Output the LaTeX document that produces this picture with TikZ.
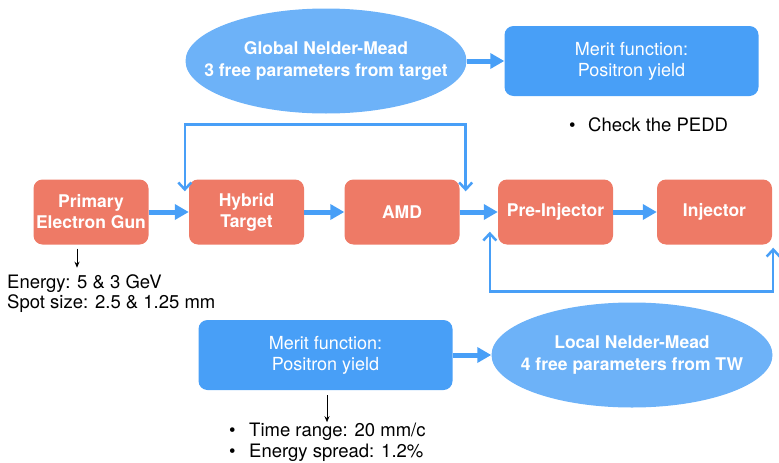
\documentclass[tikz,border=0pt]{standalone}
\usepackage{fontspec}
\setmainfont{TeX Gyre Heros}
\usetikzlibrary{shapes.geometric,arrows.meta}
\definecolor{stagered}{HTML}{EE7A66}
\definecolor{meritblue}{HTML}{489FF7}
\definecolor{nelderblue}{HTML}{6DB2F8}

\begin{document}
\begin{tikzpicture}[x=1pt,y=-1pt,
    stage/.style ={rectangle, rounded corners=9pt, fill=stagered, text=white, inner sep=0pt,
       minimum width=115pt, minimum height=65pt, align=center, font=\fontsize{17.5}{21}\selectfont\bfseries},
    merit/.style ={rectangle, rounded corners=9pt, fill=meritblue, text=white, inner sep=0pt,
       minimum width=254pt, minimum height=70pt, align=center, font=\fontsize{18}{21}\selectfont},
    nelder/.style ={ellipse, fill=nelderblue, text=white, inner xsep=-50pt, inner ysep=0pt,
       minimum width=281pt, minimum height=105pt, align=center, font=\fontsize{17.5}{22}\selectfont\bfseries},
    flow/.style ={line width=5pt, draw=meritblue, -{Triangle[length=14pt,width=15pt]}},
    loop/.style ={line width=2.5pt, draw=meritblue,
       {Straight Barb[length=7pt,width=13pt]}-{Straight Barb[length=7pt,width=13pt]}},
    note/.style ={inner sep=0pt, anchor=base west, font=\fontsize{18.5}{21}\selectfont},
    pointer/.style ={line width=0.9pt, -{Stealth[length=6pt,width=5pt]}}]

   \useasboundingbox (0,0) rectangle (779,463);

   \node[stage] (gun)    at (91,212)    {Primary\\Electron Gun};
   \node[stage] (hybrid) at (246.5,212) {Hybrid\\Target};
   \node[stage] (amd)    at (402,212)   {AMD};
   \node[stage] (pre)    at (555.5,212) {Pre-Injector};
   \node[stage] (inj)    at (714.5,212) {Injector};

   \node[nelder] (glob)   at (326,61)    {Global Nelder-Mead\\3 free parameters from target};
   \node[merit]  (meritT) at (631.5,61)  {Merit function:\\Positron yield};
   \node[merit]  (meritB) at (325.5,355) {Merit function:\\Positron yield};
   \node[nelder] (loc)    at (632,355)   {Local Nelder-Mead\\4 free parameters from TW};

   \node[note] (pedd)   at (569,131) {\makebox[19pt][l]{\textbullet}Check the PEDD};
   \node[note] (energy) at (7,288)   {Energy: 5 \& 3 GeV};
   \node[note] (spot)   at (7,308)   {Spot size: 2.5 \& 1.25 mm};
   \node[note] (time)   at (229,436) {\makebox[20pt][l]{\textbullet}Time range: 20 mm/c};
   \node[note] (spread) at (229,457) {\makebox[20pt][l]{\textbullet}Energy spread: 1.2\%};

   \draw[flow] (gun)    -- (hybrid);
   \draw[flow] (hybrid) -- (amd);
   \draw[flow] (amd)    -- (pre);
   \draw[flow] (pre)    -- (inj);
   \draw[flow] (glob.east)   -- (meritT.west);
   \draw[flow] (meritB.east) -- (loc.west);

   \draw[loop] ([xshift=-4pt,yshift=-12pt]hybrid.north west) -- ++(0,-67)
               -| ([xshift=6pt,yshift=-12pt]amd.north east);
   \draw[loop] ([xshift=-8pt,yshift=13pt]pre.south west) -- ++(0,60)
               -| ([xshift=1pt,yshift=-3pt]inj.south east);

   \draw[pointer] ([xshift=-14pt,yshift=-4pt]gun.south) -- ([xshift=-14pt,yshift=-23pt]gun.south);
   \draw[pointer] ([xshift=1.5pt,yshift=-5pt]meritB.south) -- ([xshift=1.5pt,yshift=-32pt]meritB.south);

 \end{tikzpicture}
\end{document}
